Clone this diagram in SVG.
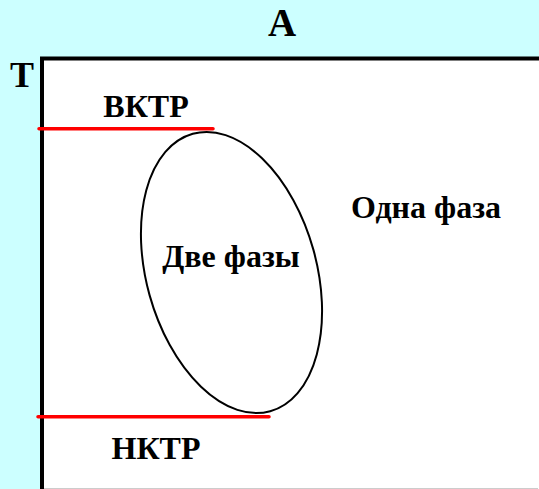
<svg xmlns="http://www.w3.org/2000/svg" width="539" height="489" viewBox="0 0 539 489">
<style>
.t{font-family:"Liberation Serif","Times New Roman",serif;font-weight:bold;fill:#000;text-anchor:middle}
.red{stroke:#FF0000;stroke-width:3.5;stroke-linecap:round;fill:none}
</style>
<rect x="0" y="0" width="539" height="489" fill="#CCFFFF"/>
<g id="plot">
<rect x="42" y="58.5" width="497" height="430.5" fill="#FFFFFF"/>
<line x1="44" y1="488.5" x2="538" y2="488.5" stroke="#CCCCCC" stroke-width="1"/>
<path d="M42,489 V58.5 H539" fill="none" stroke="#000" stroke-width="4"/>
</g>
<g id="axis-labels">
<text class="t" x="282" y="35.5" font-size="39">A</text>
<text class="t" x="22" y="87" font-size="36">T</text>
</g>
<g id="connectors">
<line class="red" x1="39" y1="128.7" x2="213" y2="128.7"/>
<line class="red" x1="38" y1="416.7" x2="269" y2="416.7"/>
</g>
<g id="vktr"><text class="t" x="146" y="117" font-size="32">ВКТР</text></g>
<g id="nktr"><text class="t" x="156" y="459" font-size="32">НКТР</text></g>
<g id="two-phase">
<ellipse cx="231.5" cy="272.5" rx="85" ry="144" transform="rotate(-15.6 231.5 272.5)" fill="none" stroke="#000" stroke-width="2"/>
<text class="t" x="231" y="267" font-size="32">Две фазы</text>
</g>
<g id="one-phase"><text class="t" x="426" y="218" font-size="32">Одна фаза</text></g>
</svg>
